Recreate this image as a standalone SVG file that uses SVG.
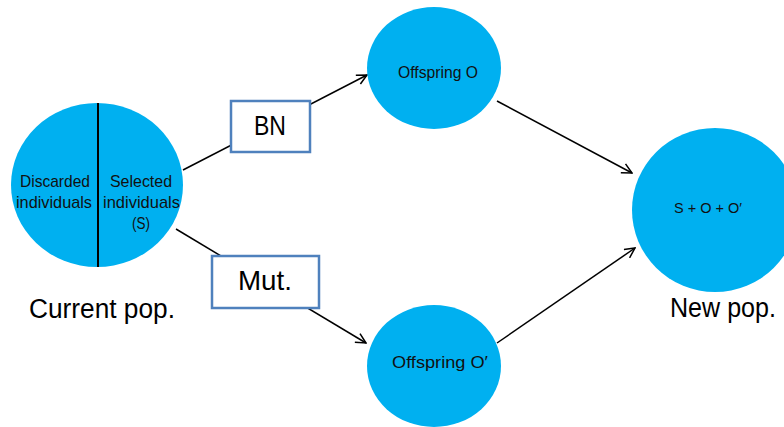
<svg xmlns="http://www.w3.org/2000/svg" width="784" height="427" viewBox="0 0 784 427">
  <style>
    .pop { fill: #00B0F0; }
    .small { font-family: "Liberation Sans", Arial, sans-serif; fill: #111; }
    .box { fill: #FFFFFF; stroke: #4F81BD; stroke-width: 2.5; }
    .boxtxt { font-family: "Liberation Sans", Arial, sans-serif; font-size: 28px; fill: #000; }
    .big { font-family: "Liberation Sans", Arial, sans-serif; font-size: 27px; fill: #000; }
    .edge { stroke: #000; stroke-width: 1.5; fill: none; marker-end: url(#arr); }
  </style>
  <defs>
    <marker id="arr" viewBox="0 0 12 12" refX="11" refY="6" markerWidth="12" markerHeight="12" markerUnits="userSpaceOnUse" orient="auto">
      <path d="M1,1 L11,6 L1,11" fill="none" stroke="#000" stroke-width="1.5"/>
    </marker>
  </defs>
  <rect width="784" height="427" fill="#FFFFFF"/>

  <g id="connectors">
    <line class="edge" x1="183" y1="170" x2="367" y2="75"/>
    <line class="edge" x1="176" y1="229" x2="366" y2="343"/>
    <line class="edge" x1="497" y1="101" x2="632" y2="173"/>
    <line class="edge" x1="497" y1="343" x2="635" y2="248"/>
  </g>

  <g id="current-pop">
    <ellipse class="pop" cx="97" cy="185" rx="86" ry="82"/>
    <line x1="98" y1="103" x2="98" y2="267" stroke="#000" stroke-width="2"/>
    <text class="small" font-size="17" x="20" y="187" textLength="70" lengthAdjust="spacingAndGlyphs">Discarded</text>
    <text class="small" font-size="17" x="16" y="208" textLength="76" lengthAdjust="spacingAndGlyphs">individuals</text>
    <text class="small" font-size="17" x="110" y="187" textLength="62" lengthAdjust="spacingAndGlyphs">Selected</text>
    <text class="small" font-size="17" x="103" y="208" textLength="77" lengthAdjust="spacingAndGlyphs">individuals</text>
    <text class="small" font-size="17" x="132" y="229" textLength="18" lengthAdjust="spacingAndGlyphs">(S)</text>
    <text class="big" x="29" y="318" textLength="146" lengthAdjust="spacingAndGlyphs">Current pop.</text>
  </g>

  <g id="bn">
    <rect class="box" x="231" y="101" width="79" height="51"/>
    <text class="boxtxt" x="254" y="135" textLength="32" lengthAdjust="spacingAndGlyphs">BN</text>
  </g>

  <g id="mut">
    <rect class="box" x="212" y="256" width="107" height="52"/>
    <text class="boxtxt" x="238" y="290" textLength="54" lengthAdjust="spacingAndGlyphs">Mut.</text>
  </g>

  <g id="offspring-o">
    <ellipse class="pop" cx="434" cy="68" rx="67" ry="61"/>
    <text class="small" font-size="17" x="398" y="78" textLength="80" lengthAdjust="spacingAndGlyphs">Offspring O</text>
  </g>

  <g id="offspring-o-prime">
    <ellipse class="pop" cx="434" cy="366" rx="67" ry="61"/>
    <text class="small" font-size="17" x="392" y="368" textLength="96" lengthAdjust="spacingAndGlyphs">Offspring O′</text>
  </g>

  <g id="new-pop">
    <ellipse class="pop" cx="715" cy="210" rx="83" ry="82"/>
    <text class="small" font-size="15" x="674" y="213" textLength="68" lengthAdjust="spacingAndGlyphs">S + O + O′</text>
    <text class="big" x="670" y="317" textLength="106" lengthAdjust="spacingAndGlyphs">New pop.</text>
  </g>
</svg>
